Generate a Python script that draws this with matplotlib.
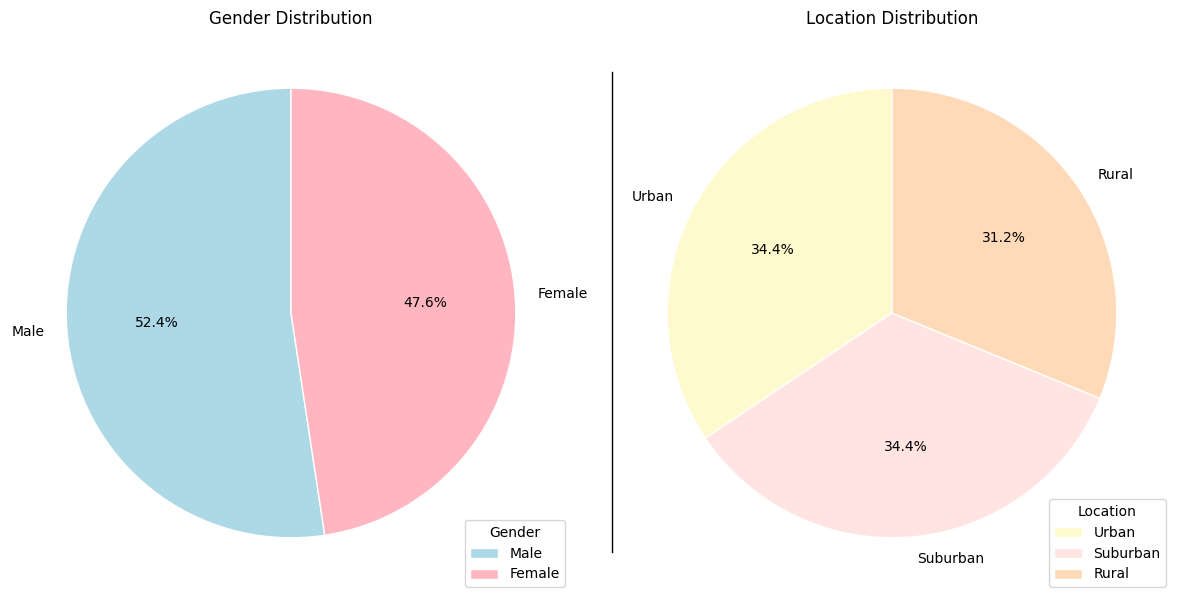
import matplotlib
matplotlib.use("Agg")
import matplotlib.pyplot as plt
from matplotlib.lines import Line2D

gender_labels = ["Male", "Female"]
gender_values = [52.4, 47.6]
gender_colors = ["lightblue", "lightpink"]

location_labels = ["Urban", "Suburban", "Rural"]
location_values = [34.4, 34.4, 31.2]
location_colors = ["lemonchiffon", "mistyrose", "peachpuff"]

W, H = 1182, 604
fig = plt.figure(figsize=(W / 100, H / 100), dpi=100)

S = 562
ax1 = fig.add_axes([(291 - S / 2) / W, (H - 313 - S / 2) / H, S / W, S / H])
ax2 = fig.add_axes([(892 - S / 2) / W, (H - 313 - S / 2) / H, S / W, S / H])

ax1.pie(gender_values, labels=gender_labels, colors=gender_colors,
        autopct="%1.1f%%", startangle=90,
        wedgeprops=dict(edgecolor="white"))
ax1.set_title("Gender Distribution")
ax1.legend(title="Gender", loc="lower right")

ax2.pie(location_values, labels=location_labels, colors=location_colors,
        autopct="%1.1f%%", startangle=90,
        wedgeprops=dict(edgecolor="white"))
ax2.set_title("Location Distribution")
ax2.legend(title="Location", loc="lower right")

fig.add_artist(Line2D([612 / W, 612 / W], [(H - 552) / H, (H - 72) / H],
                      color="black", linewidth=1, transform=fig.transFigure))

fig.savefig("out.png", dpi=100)
